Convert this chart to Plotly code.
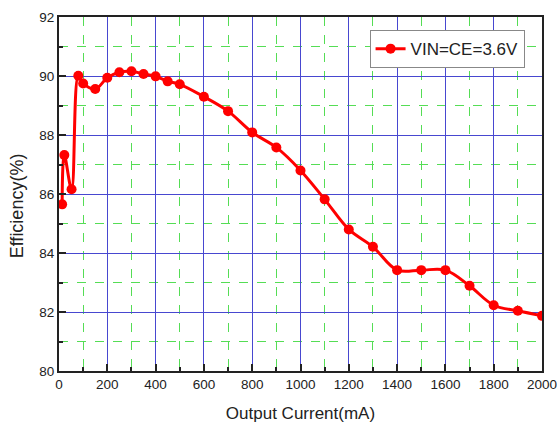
import plotly.graph_objects as go

current_ma = [13, 22, 52, 80, 100, 150, 200, 250, 300, 350, 400, 450, 500, 600, 700,
              800, 900, 1000, 1100, 1200, 1300, 1400, 1500, 1600, 1700, 1800, 1900, 2000]
efficiency = [85.65, 87.32, 86.16, 90.01, 89.75, 89.56, 89.94, 90.13, 90.16, 90.07, 89.99,
              89.82, 89.72, 89.3, 88.81, 88.09, 87.58, 86.8, 85.82, 84.8, 84.21, 83.42,
              83.42, 83.42, 82.89, 82.23, 82.04, 81.87]
series_name = "VIN=CE=3.6V"
x_ticks = list(range(0, 2001, 200))
y_ticks = [80, 82, 84, 86, 88, 90, 92]
x_minor = list(range(100, 2000, 200))
y_minor = [81, 83, 85, 87, 89, 91]

fig = go.Figure()
fig.add_trace(go.Scatter(
    x=current_ma, y=efficiency, mode="lines+markers", name=series_name,
    line=dict(color="#ff0000", width=3, shape="spline", smoothing=1.0),
    marker=dict(color="#ff0000", size=10, symbol="circle"),
))

font_family = "Liberation Sans, Arial, sans-serif"
axis_common = dict(
    showline=True, linecolor="#222222", linewidth=2, mirror=True,
    ticks="inside", ticklen=7, tickwidth=1.5, tickcolor="#222222",
    showgrid=True, gridcolor="#4848d0", gridwidth=1,
    zeroline=False, automargin=False, ticklabeloverflow="allow",
    tickfont=dict(family=font_family, size=13.5, color="#222222"),
)

fig.update_layout(
    width=557, height=423,
    margin=dict(l=59, r=15, t=17, b=52),
    paper_bgcolor="white", plot_bgcolor="white",
    showlegend=True,
    legend=dict(
        x=0.643, y=0.963, xanchor="left", yanchor="top",
        bgcolor="white", bordercolor="#888888", borderwidth=1,
        font=dict(family=font_family, size=17, color="#222222"),
        itemwidth=30, tracegroupgap=0,
    ),
    xaxis=dict(
        range=[-0.01, 2000.01], tickvals=x_ticks,
        title=dict(text="Output Current(mA)", font=dict(family=font_family, size=17, color="#222222"), standoff=16),
        minor=dict(tickvals=x_minor, showgrid=True, gridcolor="#55dd55", griddash="dash",
                   gridwidth=1, ticks="inside", ticklen=4, tickcolor="#222222"),
        **axis_common,
    ),
    yaxis=dict(
        range=[80, 92.002], tickvals=y_ticks,
        minor=dict(tickvals=y_minor, showgrid=True, gridcolor="#55dd55", griddash="dash",
                   gridwidth=1, ticks="inside", ticklen=4, tickcolor="#222222"),
        **axis_common,
    ),
    annotations=[dict(
        text="Efficiency(%)", textangle=-90, showarrow=False,
        xref="paper", yref="paper", x=-0.087, y=0.468,
        xanchor="center", yanchor="middle",
        font=dict(family=font_family, size=18, color="#222222"),
    )],
)

fig.write_html(
    "out.html",
    config={"displayModeBar": False},
    post_script="document.body.style.margin='0';document.body.style.overflow='hidden';",
)
